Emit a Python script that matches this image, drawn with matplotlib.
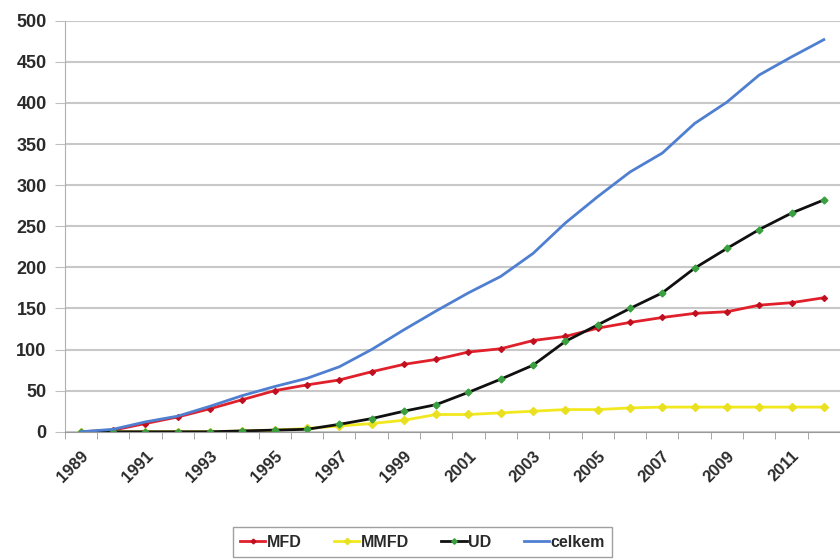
import matplotlib
matplotlib.use("Agg")
import matplotlib.pyplot as plt
import numpy as np

plt.rcParams['font.family'] = ['Liberation Sans', 'DejaVu Sans']
plt.rcParams['font.weight'] = 'bold'

years = list(range(1989, 2013))
mfd = [0, 2, 10, 18, 28, 39, 50, 57, 63, 73, 82, 88, 97, 101, 111, 116, 126, 133, 139, 144, 146, 154, 157, 163]
mmfd = [0, 0, 0, 0, 0, 1, 2, 4, 7, 10, 14, 21, 21, 23, 25, 27, 27, 29, 30, 30, 30, 30, 30, 30]
ud = [0, 0, 0, 0, 0, 1, 2, 3, 9, 16, 25, 33, 48, 64, 81, 110, 130, 150, 169, 199, 223, 246, 266, 282]
celkem = [0, 3, 12, 19, 31, 44, 55, 65, 79, 100, 124, 147, 169, 189, 217, 254, 286, 316, 339, 375, 401, 434, 456, 477]
label_years = [str(y) for y in years[::2]]

fig = plt.figure(figsize=(8.4, 5.6), dpi=100)
ax = fig.add_axes([0.077, 0.229, 0.923, 0.734])

x = np.arange(len(years))
ax.plot(x, mfd, color='#e0202a', lw=2, marker='D', ms=3, mfc='#c01020', mec='#c01020', label='MFD')
ax.plot(x, mmfd, color='#f2e81e', lw=2, marker='D', ms=4, mfc='#e8e020', mec='#e8e020', label='MMFD')
ax.plot(x, ud, color='#101010', lw=2, marker='D', ms=3.5, mfc='#3aa040', mec='#3aa040', label='UD')
ax.plot(x, celkem, color='#4f7fd0', lw=2, label='celkem')

ax.set_ylim(0, 500)
ax.set_yticks(range(0, 501, 50))
ax.set_xlim(-0.5, 23.21)
ax.set_xticks(x[::2])
ax.set_xticklabels(label_years, rotation=45, ha='right', rotation_mode='anchor')
ax.set_xticks(np.arange(-0.5, 24, 1), minor=True)
ax.tick_params(axis='x', which='major', length=0, pad=12, labelsize=12, colors='#2a2a2a')
ax.tick_params(axis='x', which='minor', length=5, color='#999999')
ax.tick_params(axis='y', length=7, color='#c0c0c0', labelsize=13, labelcolor='#2a2a2a', pad=6)

ax.grid(axis='y', color='#c8c8c8', lw=1.5)
ax.set_axisbelow(True)
for s in ['top', 'right']:
    ax.spines[s].set_visible(False)
ax.spines['left'].set_color('#b0b0b0')
ax.spines['bottom'].set_color('#999999')

leg = fig.legend(loc='center', bbox_to_anchor=(0.503, 0.032), ncol=4, fontsize=11.5,
                 frameon=True, fancybox=False, handlelength=1.6, handletextpad=0.1,
                 columnspacing=2.0, borderpad=0.45, markerscale=0.8)
leg.get_frame().set_edgecolor('#888888')
leg.get_frame().set_linewidth(1)
for t in leg.get_texts():
    t.set_color('#2a2a2a')

fig.savefig('out.png', dpi=100)
